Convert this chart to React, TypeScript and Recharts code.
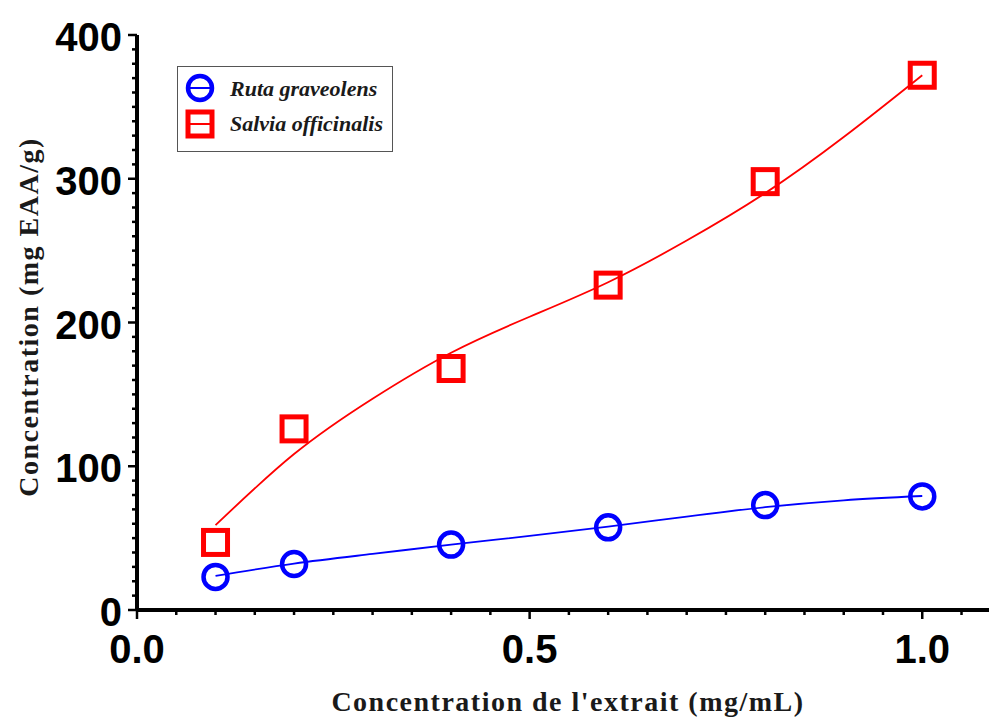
import React from 'react';
import { ComposedChart, Scatter, Line, XAxis, YAxis, Legend } from 'recharts';

const concentrations = [0.1, 0.2, 0.4, 0.6, 0.8, 1.0];
const rutaValues = [23, 32, 45.5, 57.5, 73, 79];
const salviaValues = [47, 126, 168, 226, 298, 372];

// fitted curves
const fitX = [0.1, 0.2, 0.3, 0.4, 0.5, 0.6, 0.7, 0.8, 0.9, 1.0];
const rutaFitValues = [23.7, 32.3, 39, 45.5, 51.5, 58, 65, 71.5, 76.3, 79.3];
const salviaFitValues = [59, 108.5, 147, 179, 204, 228, 257, 290, 329, 372];

const xTicks = [0, 0.05, 0.1, 0.15, 0.2, 0.25, 0.3, 0.35, 0.4, 0.45, 0.5, 0.55, 0.6, 0.65, 0.7, 0.75, 0.8, 0.85, 0.9, 0.95, 1.0, 1.05];
const xLabels = [0, 0.5, 1.0];
const yTicks = [0, 10, 20, 30, 40, 50, 60, 70, 80, 90, 100, 110, 120, 130, 140, 150, 160, 170, 180, 190, 200,
  210, 220, 230, 240, 250, 260, 270, 280, 290, 300, 310, 320, 330, 340, 350, 360, 370, 380, 390, 400];
const yLabels = [0, 100, 200, 300, 400];

const seriesNames = ['Ruta graveolens', 'Salvia officinalis'];
const xTitle = "Concentration de l'extrait (mg/mL)";
const yTitle = 'Concentration (mg EAA/g)';

const BLUE = '#0000ff';
const RED = '#ff0000';

const rutaPts = concentrations.map((x, i) => ({ x, y: rutaValues[i] }));
const salviaPts = concentrations.map((x, i) => ({ x, y: salviaValues[i] }));
const rutaFit = fitX.map((x, i) => ({ x, y: rutaFitValues[i] }));
const salviaFit = fitX.map((x, i) => ({ x, y: salviaFitValues[i] }));

const isMajor = (v: number, list: number[]) => list.some(m => Math.abs(m - v) < 1e-6);

const XTick = (p: any) => {
  const v = p.payload.value;
  const major = isMajor(v, xLabels);
  return (
    <g>
      <line x1={p.x} x2={p.x} y1={p.y} y2={p.y + (major ? 9 : 5)} stroke="#000" strokeWidth={2.5} />
      {major && (
        <text x={p.x} y={p.y + 53} textAnchor="middle" fontFamily="'Liberation Sans', Arial, sans-serif"
          fontWeight="bold" fontSize={40} fill="#000">{v.toFixed(1)}</text>
      )}
    </g>
  );
};

const YTick = (p: any) => {
  const v = p.payload.value;
  const major = isMajor(v, yLabels);
  return (
    <g>
      <line x1={p.x} x2={p.x - (major ? 9 : 5)} y1={p.y} y2={p.y} stroke="#000" strokeWidth={2.5} />
      {major && (
        <text x={p.x - 15} y={p.y + 2} textAnchor="end" dominantBaseline="central"
          fontFamily="'Liberation Sans', Arial, sans-serif" fontWeight="bold" fontSize={40} fill="#000">{v}</text>
      )}
    </g>
  );
};

const titleFont = { fontFamily: "'Liberation Serif', 'Times New Roman', serif", fontWeight: 'bold' as const, fontSize: 28, letterSpacing: 1.5, fill: '#1a1a1a' };

const YTitle = () => (
  <text x={28} y={317} transform="rotate(-90 28 317)" textAnchor="middle" dominantBaseline="central" style={titleFont}>{yTitle}</text>
);
const XTitle = () => (
  <text x={568} y={711} textAnchor="middle" style={titleFont}>{xTitle}</text>
);

const Circle = (p: any) => <circle cx={p.cx} cy={p.cy} r={12} fill="none" stroke={BLUE} strokeWidth={4.5} />;
const Square = (p: any) => <rect x={p.cx - 12} y={p.cy - 12} width={24} height={24} fill="none" stroke={RED} strokeWidth={5} />;

const legendFont = { fontFamily: "'Liberation Serif', 'Times New Roman', serif", fontStyle: 'italic' as const, fontWeight: 'bold' as const, fontSize: 22, fill: '#1a1a1a' };

const LegendBox = () => (
  <div style={{ border: '1.5px solid #555', width: 216, height: 86, boxSizing: 'border-box', background: '#fff' }}>
    <svg width={213} height={83}>
      <circle cx={22} cy={21} r={12} fill="none" stroke={BLUE} strokeWidth={4.5} />
      <line x1={10} x2={34} y1={21} y2={21} stroke={BLUE} strokeWidth={2} />
      <text x={52} y={29} style={legendFont}>{seriesNames[0]}</text>
      <rect x={10} y={45} width={24} height={24} fill="none" stroke={RED} strokeWidth={5} />
      <line x1={10} x2={34} y1={57} y2={57} stroke={RED} strokeWidth={2} />
      <text x={52} y={64} style={legendFont}>{seriesNames[1]}</text>
    </svg>
  </div>
);

export default function App() {
  return (
    <div style={{ position: 'absolute', left: 0, top: 0, background: '#fff' }}>
      <ComposedChart width={989} height={718} margin={{ top: 35, right: 0, left: 57, bottom: 48 }}>
        <XAxis type="number" dataKey="x" domain={[0, 1.085]} ticks={xTicks} interval={0} allowDataOverflow
          height={60} tickSize={0} tickMargin={0} tickLine={false} tick={<XTick />}
          axisLine={{ stroke: '#000', strokeWidth: 4 }} label={<XTitle />} />
        <YAxis type="number" dataKey="y" domain={[0, 400]} ticks={yTicks} interval={0} width={80}
          tickSize={0} tickMargin={0} tickLine={false} tick={<YTick />}
          axisLine={{ stroke: '#000', strokeWidth: 4 }} label={<YTitle />} />
        <Legend layout="vertical" align="center" verticalAlign="middle"
          wrapperStyle={{ left: 177, top: 66, width: 216, height: 86 }} content={<LegendBox />} />
        <Line data={rutaFit} dataKey="y" type="natural" dot={false} stroke={BLUE} strokeWidth={1.8} isAnimationActive={false} legendType="none" />
        <Line data={salviaFit} dataKey="y" type="natural" dot={false} stroke={RED} strokeWidth={1.8} isAnimationActive={false} legendType="none" />
        <Scatter data={rutaPts} dataKey="y" shape={<Circle />} isAnimationActive={false} name={seriesNames[0]} />
        <Scatter data={salviaPts} dataKey="y" shape={<Square />} isAnimationActive={false} name={seriesNames[1]} />
      </ComposedChart>
    </div>
  );
}
